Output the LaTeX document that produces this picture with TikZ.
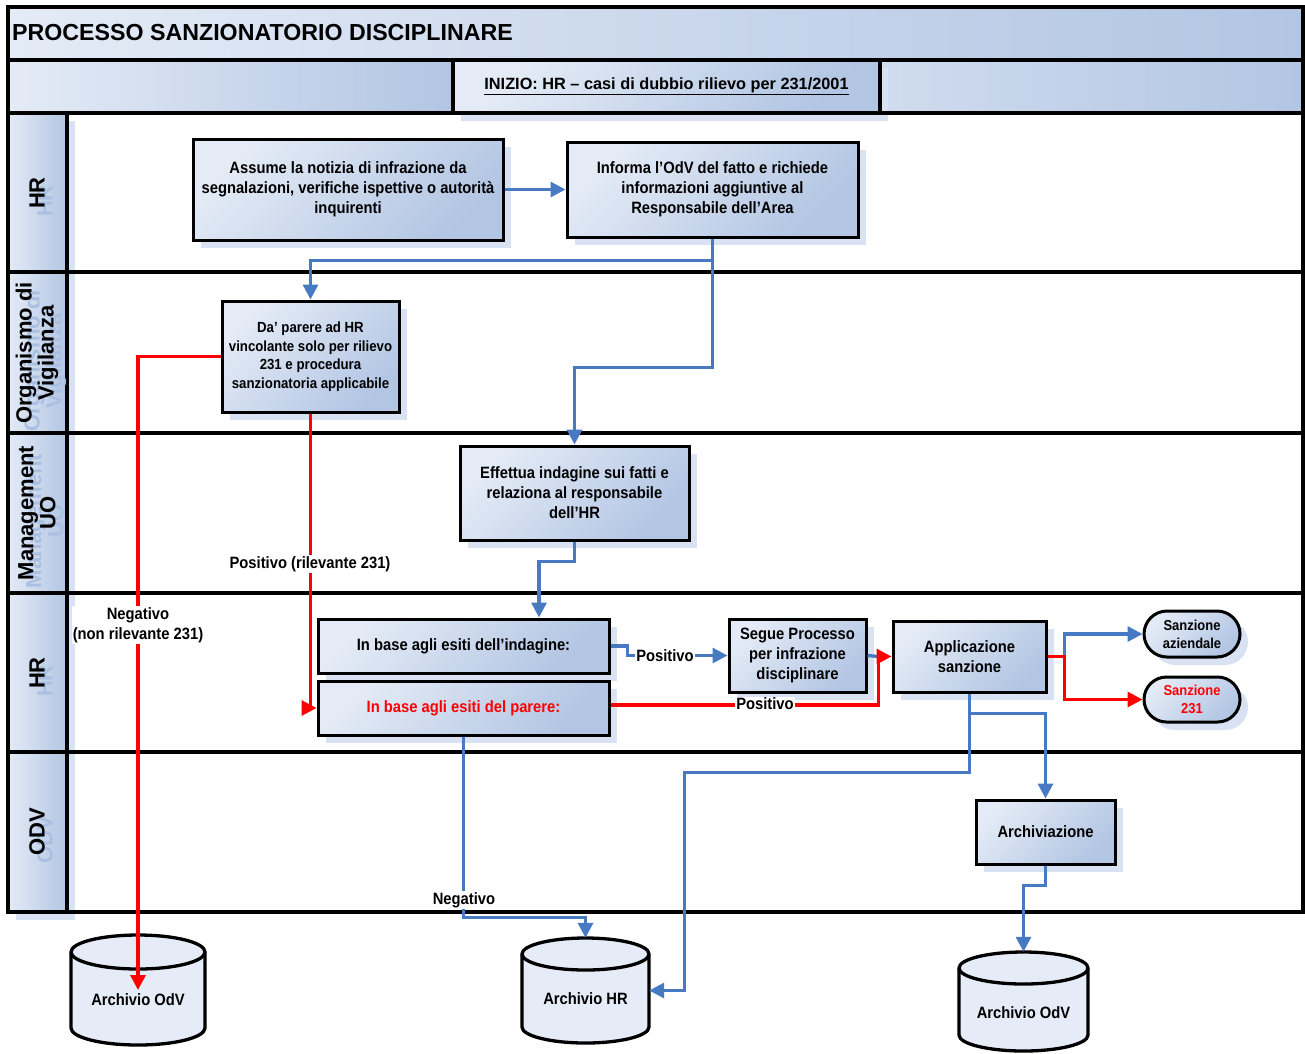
\documentclass[tikz,border=0pt]{standalone}
\usepackage{fontspec}
\setmainfont{Liberation Sans}
\newfontfamily\nf{Liberation Sans}[FakeStretch=0.9]
\usetikzlibrary{arrows.meta,shadows,shapes.misc}
\definecolor{gl}{RGB}{228,235,246}
\definecolor{gd}{RGB}{178,197,227}
\definecolor{shc}{RGB}{216,226,242}
\definecolor{lb}{RGB}{72,122,196}
\definecolor{cyf}{RGB}{230,236,247}
\definecolor{ghost}{RGB}{170,192,226}
\tikzset{
  shd/.style={drop shadow={shadow xshift=8pt,shadow yshift=-8pt,fill=shc,opacity=1}},
  grad/.style={top color=gl,bottom color=gd,shading angle=45},
  box/.style={shd,grad,draw=black,line width=3pt,inner sep=0pt,align=center,font=\nf\bfseries\fontsize{16.4}{20}\selectfont},
  term/.style={box,rounded rectangle,font=\nf\bfseries\fontsize{14.4}{18}\selectfont},
  lane/.style={rotate=90,align=center,inner sep=0pt,font=\bfseries\fontsize{22}{22}\selectfont},
  lbl/.style={fill=white,inner sep=1pt,align=center,font=\nf\bfseries\fontsize{16.4}{20}\selectfont},
  bl/.style={draw=lb,line width=3.3pt},
  rd/.style={draw=red,line width=3.3pt},
  tip/.style={-{Triangle[length=15pt,width=15pt]}},
  frame/.style={draw=black,line width=3.8pt},
  cyl/.style={draw=black,line width=3.3pt,fill=cyf},
  cylt/.style={inner sep=0pt,font=\nf\bfseries\fontsize{16.4}{20}\selectfont},
  body/.style={inner sep=0pt,draw=none},
}
\begin{document}
\begin{tikzpicture}[x=1pt,y=-1pt]
\useasboundingbox (0,0) rectangle (1305,1053);

% header rows
\shade[left color=gl,right color=gd] (8,7) rectangle (1303,60);
\shade[left color=gl,right color=gd] (8,60) rectangle (453,113);
\shade[left color=gl!60!gd,right color=gd] (880,60) rectangle (1303,113);
\node[shd,grad,draw=black,line width=3pt,minimum width=427pt,minimum height=53pt,inner sep=0pt,font=\bfseries\fontsize{16.3}{18}\selectfont] (ini) at (666.5,86.5) {\underline{INIZIO: HR – casi di dubbio rilievo per 231/2001}};
\node[anchor=west,inner sep=0pt,font=\bfseries\fontsize{23.2}{23}\selectfont] (title) at (12,33) {PROCESSO SANZIONATORIO DISCIPLINARE};

% lane label cells
\foreach \ya/\yb in {113/272,272/433,433/593,593/752,752/912}{
  \fill[shc] (16,\ya+8) rectangle (75,\yb+8);
}
\foreach \ya/\yb in {113/272,272/433,433/593,593/752,752/912}{
  \shade[left color=gl,right color=gd] (8,\ya) rectangle (67,\yb);
}

% frame
\draw[frame] (8,7) rectangle (1303,912);
\foreach \yy in {60,113,272,433,593,752}{ \draw[frame] (8,\yy) -- (1303,\yy); }
\draw[frame] (67,113) -- (67,912);
\draw[frame] (453,60) -- (453,113);
\draw[frame] (880,60) -- (880,113);

% lane labels (with ghost copies)
\node[lane,text=ghost] (g1) at (45,201) {HR};
\node[lane] (l1) at (37,193) {HR};
\node[lane,text=ghost] (g2) at (45,361) {Organismo di\\Vigilanza};
\node[lane] (l2) at (37,353) {Organismo di\\Vigilanza};
\node[lane,text=ghost] (g3) at (45,521) {Management\\UO};
\node[lane] (l3) at (37,513) {Management\\UO};
\node[lane,text=ghost] (g4) at (45,681) {HR};
\node[lane] (l4) at (37,673) {HR};
\node[lane,text=ghost] (g5) at (45,840) {ODV};
\node[lane] (l5) at (37,832) {ODV};

% process boxes
\node[box,minimum width=310pt,minimum height=101pt] (A) at (348,189.5) {Assume la notizia di infrazione da\\segnalazioni, verifiche ispettive o autorità\\inquirenti};
\node[box,minimum width=291pt,minimum height=95pt] (B) at (712.5,189.5) {Informa l’OdV del fatto e richiede\\informazioni aggiuntive al\\Responsabile dell’Area};
\node[box,minimum width=177pt,minimum height=111pt,font=\nf\bfseries\fontsize{14.7}{18.5}\selectfont] (C) at (310.5,356.5) {Da’ parere ad HR\\vincolante solo per rilievo\\231 e procedura\\sanzionatoria applicabile};
\node[box,minimum width=229pt,minimum height=94pt] (D) at (574.5,493) {Effettua indagine sui fatti e\\relaziona al responsabile\\dell’HR};
\node[box,minimum width=291pt,minimum height=54pt] (E) at (463.5,646) {In base agli esiti dell’indagine:};
\node[box,minimum width=291pt,minimum height=54pt,text=red] (F) at (463.5,708) {In base agli esiti del parere:};
\node[box,minimum width=137pt,minimum height=73pt] (G) at (797.5,655.5) {Segue Processo\\per infrazione\\disciplinare};
\node[box,minimum width=153pt,minimum height=71pt] (H) at (969.5,656.5) {Applicazione\\sanzione};
\node[term,minimum width=96pt,minimum height=46pt] (T1) at (1192,634) {Sanzione\\aziendale};
\node[term,minimum width=96pt,minimum height=45pt,text=red] (T2) at (1192,699.5) {Sanzione\\231};
\node[box,minimum width=139pt,minimum height=64pt] (I) at (1045.5,832) {Archiviazione};

% cylinders
\filldraw[cyl] (71,952) -- (71,1028) arc[start angle=180,end angle=360,x radius=67pt,y radius=17pt] -- (205,952) arc[start angle=0,end angle=180,x radius=67pt,y radius=17pt] -- cycle;
\draw[cyl,fill=none] (71,952) arc[start angle=180,end angle=360,x radius=67pt,y radius=17pt];
\node[body,minimum width=134pt,minimum height=76pt] (cylL) at (138,990) {};
\node[cylt] (cylLt) at (138,1000) {Archivio OdV};

\filldraw[cyl] (522,954) -- (522,1027) arc[start angle=180,end angle=360,x radius=63.5pt,y radius=16pt] -- (649,954) arc[start angle=0,end angle=180,x radius=63.5pt,y radius=16pt] -- cycle;
\draw[cyl,fill=none] (522,954) arc[start angle=180,end angle=360,x radius=63.5pt,y radius=16pt];
\node[body,minimum width=127pt,minimum height=73pt] (cylHR) at (585.5,990.5) {};
\node[cylt] (cylHRt) at (585.5,999) {Archivio HR};

\filldraw[cyl] (959,968) -- (959,1035) arc[start angle=180,end angle=360,x radius=64.5pt,y radius=16pt] -- (1088,968) arc[start angle=0,end angle=180,x radius=64.5pt,y radius=16pt] -- cycle;
\draw[cyl,fill=none] (959,968) arc[start angle=180,end angle=360,x radius=64.5pt,y radius=16pt];
\node[body,minimum width=129pt,minimum height=67pt] (cylR) at (1023.5,1001.5) {};
\node[cylt] (cylRt) at (1023.5,1013) {Archivio OdV};

% connectors
\draw[bl,tip] (A.east) -- (B.west);
\draw[bl,tip] (B.south) -- ++(0,22) -| (C.north);
\draw[bl,tip] (B.south) |- ([yshift=77pt]D.north) -- (D.north);
\draw[rd,tip] (C.west) -| (cylL.center);
\draw[rd,tip] (C.south) |- (F.west);
\draw[bl,tip] (D.south) -- ++(0,20) -| ([xshift=75.5pt]E.north);
\draw[bl,tip] (E.east) -- ++(17,0) |- (G.west);
\draw[bl] (G.east) -- ([xshift=-13pt]H.west);
\draw[rd,tip] ([yshift=3pt]F.east) -| ([xshift=-13pt]H.west) -- (H.west);
\draw[bl,tip] (H.east) -- ++(17,0) |- (T1.west);
\draw[rd,tip] (H.east) -- ++(17,0) |- (T2.west);
\draw[bl,tip] (H.south) -- ++(0,20) -| (I.north);
\draw[bl,tip] (H.south) -- ++(0,79) -| ([xshift=35pt]cylHR.east) -- (cylHR.east);
\draw[bl,tip] (F.south) |- ([yshift=36pt]cylHR.north) -- ([yshift=16pt]cylHR.north);
\draw[bl,tip] (I.south) -- ++(0,20) -| ([yshift=16pt]cylR.north);

% connector labels
\node[lbl] (n1) at (138,625) {Negativo\\(non rilevante 231)};
\node[lbl] (p1) at (310,564) {Positivo (rilevante 231)};
\node[lbl] (p2) at (665,656) {Positivo};
\node[lbl] (p3) at (765,704) {Positivo};
\node[lbl] (n2) at (464,900) {Negativo};
\end{tikzpicture}
\end{document}
